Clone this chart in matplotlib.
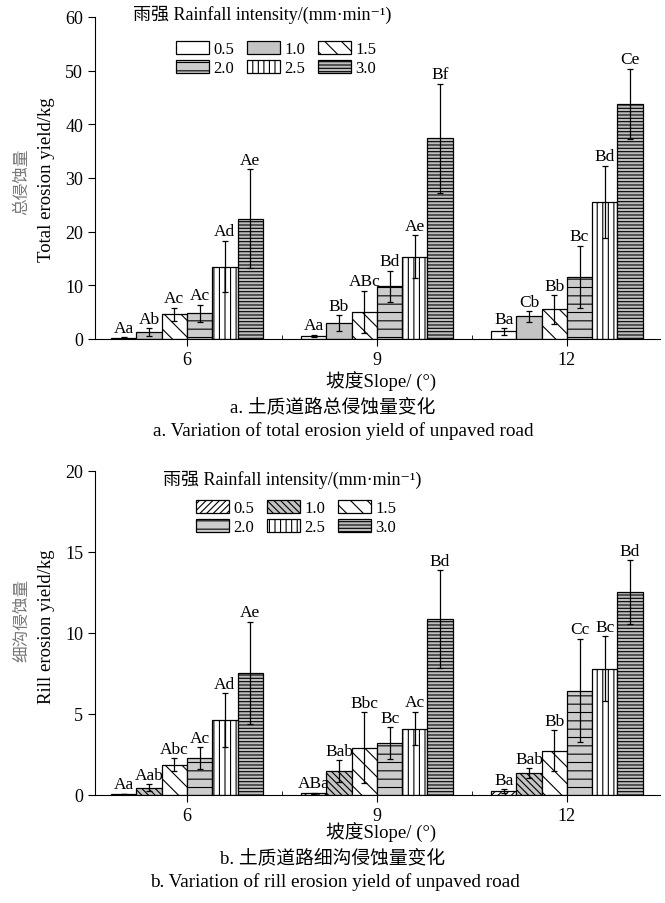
import matplotlib
matplotlib.use('Agg')
import matplotlib.pyplot as plt
import numpy as np

plt.rcParams['font.family'] = ['Liberation Serif', 'Noto Sans CJK SC', 'DejaVu Serif']
plt.rcParams['hatch.linewidth'] = 0.8
plt.rcParams['hatch.color'] = 'black'

slopes = ['6', '9', '12']
intensities = ['0.5', '1.0', '1.5', '2.0', '2.5', '3.0']

# rows = rainfall intensity, columns = slope 6, 9, 12
total_mean = [[0.2, 0.6, 1.4],
              [1.3, 2.9, 4.2],
              [4.6, 5.1, 5.5],
              [4.8, 9.8, 11.6],
              [13.5, 15.3, 25.6],
              [22.4, 37.4, 43.8]]
total_err = [[0.1, 0.2, 0.6],
             [0.7, 1.5, 0.95],
             [1.2, 3.9, 2.7],
             [1.6, 2.9, 5.8],
             [4.8, 4.0, 6.7],
             [9.2, 10.2, 6.6]]
total_letters = [['Aa', 'Aa', 'Ba'],
                 ['Ab', 'Bb', 'Cb'],
                 ['Ac', 'ABc', 'Bb'],
                 ['Ac', 'Bd', 'Bc'],
                 ['Ad', 'Ae', 'Bd'],
                 ['Ae', 'Bf', 'Ce']]

rill_mean = [[0.06, 0.1, 0.25],
             [0.45, 1.46, 1.34],
             [1.87, 2.92, 2.74],
             [2.28, 3.2, 6.44],
             [4.63, 4.1, 7.8],
             [7.55, 10.86, 12.53]]
rill_err = [[0.03, 0.05, 0.12],
            [0.23, 0.68, 0.3],
            [0.4, 2.2, 1.25],
            [0.68, 0.97, 3.2],
            [1.67, 1.03, 2.0],
            [3.15, 3.0, 1.95]]
rill_letters = [['Aa', 'ABa', 'Ba'],
                ['Aab', 'Bab', 'Bab'],
                ['Abc', 'Bbc', 'Bb'],
                ['Ac', 'Bc', 'Cc'],
                ['Ad', 'Ac', 'Bc'],
                ['Ae', 'Bd', 'Bd']]

# (facecolor, hatch) per intensity
top_styles = [('white', ''), ('#c4c4c4', ''), ('white', '\\\\'),
              ('#cccccc', '--'), ('white', '|||'), ('#bdbdbd', '-----')]
bottom_styles = [('white', '/////'), ('#c4c4c4', '\\\\\\\\\\'), ('white', '\\\\'),
                 ('#cccccc', '--'), ('white', '|||'), ('#bdbdbd', '-----')]

legend_title = '雨强 Rainfall intensity/(mm·min⁻¹)'

fig = plt.figure(figsize=(6.65, 9.04), dpi=100)
ax1 = fig.add_axes([0.1429, 0.6239, 0.8496, 0.3562])
ax2 = fig.add_axes([0.1429, 0.1195, 0.8496, 0.3584])


def draw_panel(ax, means, errs, letters, styles, ymax, ystep, title_xy, leg_xy):
    x = np.arange(len(slopes))
    width = 0.133
    handles = []
    for i, lab in enumerate(intensities):
        fc, h = styles[i]
        pos = x + (i - 2.5) * width
        b = ax.bar(pos, means[i], width, yerr=errs[i], color=fc, edgecolor='black',
                   hatch=h, linewidth=0.9, label=lab,
                   error_kw=dict(ecolor='black', elinewidth=0.9, capsize=2.5, capthick=0.9))
        handles.append(b)
        for p, m, e, t in zip(pos, means[i], errs[i], letters[i]):
            ax.annotate(t, (p, m + e), xytext=(0, 1), textcoords='offset points',
                        ha='center', va='bottom', fontsize=12.5)
    ax.set_xlim(-0.484, 2.49)
    ax.set_ylim(0, ymax)
    ax.set_yticks(np.arange(0, ymax + 1, ystep))
    ax.set_xticks(x, slopes)
    ax.set_xticks([0.5, 1.5], minor=True)
    ax.tick_params(axis='x', which='major', direction='out', length=5, labelsize=13)
    ax.tick_params(axis='x', which='minor', direction='in', length=3)
    ax.tick_params(axis='y', direction='out', length=5, labelsize=13)
    for s in ['top', 'right']:
        ax.spines[s].set_visible(False)
    ax.text(title_xy[0], title_xy[1], legend_title, transform=ax.transAxes,
            ha='left', va='center', fontsize=13, clip_on=False)
    order = [0, 3, 1, 4, 2, 5]
    ax.legend([handles[k] for k in order], [intensities[k] for k in order],
              ncol=3, loc='upper left', bbox_to_anchor=leg_xy, frameon=False,
              borderpad=0, borderaxespad=0, handlelength=2.0, handleheight=0.8,
              handletextpad=0.25, columnspacing=0.75, labelspacing=0.15, fontsize=12)


draw_panel(ax1, total_mean, total_err, total_letters, top_styles, 60, 10,
           (0.067, 1.009), (0.143, 0.925))
draw_panel(ax2, rill_mean, rill_err, rill_letters, bottom_styles, 20, 5,
           (0.120, 0.975), (0.179, 0.910))

# y labels
fig.text(22 / 665, 1 - 182 / 904, '总侵蚀量', rotation=90, ha='center', va='center',
         fontsize=12, color='#777777')
fig.text(47 / 665, 1 - 180 / 904, 'Total erosion yield/kg', rotation=90, ha='center',
         va='center', fontsize=13.5)
fig.text(22 / 665, 1 - 620 / 904, '细沟侵蚀量', rotation=90, ha='center', va='center',
         fontsize=12, color='#777777')
fig.text(47 / 665, 1 - 627 / 904, 'Rill erosion yield/kg', rotation=90, ha='center',
         va='center', fontsize=13.5)

# x labels and captions
fig.text(381 / 665, 1 - 382 / 904, '坡度Slope/ (°)', ha='center', va='center', fontsize=13.5)
fig.text(333 / 665, 1 - 407 / 904, 'a. 土质道路总侵蚀量变化', ha='center', va='center', fontsize=13.5)
fig.text(343 / 665, 1 - 431 / 904, 'a. Variation of total erosion yield of unpaved road',
         ha='center', va='center', fontsize=13.8)
fig.text(381 / 665, 1 - 833 / 904, '坡度Slope/ (°)', ha='center', va='center', fontsize=13.5)
fig.text(333 / 665, 1 - 858 / 904, 'b. 土质道路细沟侵蚀量变化', ha='center', va='center', fontsize=13.5)
fig.text(335 / 665, 1 - 882 / 904, 'b. Variation of rill erosion yield of unpaved road',
         ha='center', va='center', fontsize=13.8)

fig.savefig('out.png', dpi=100)
